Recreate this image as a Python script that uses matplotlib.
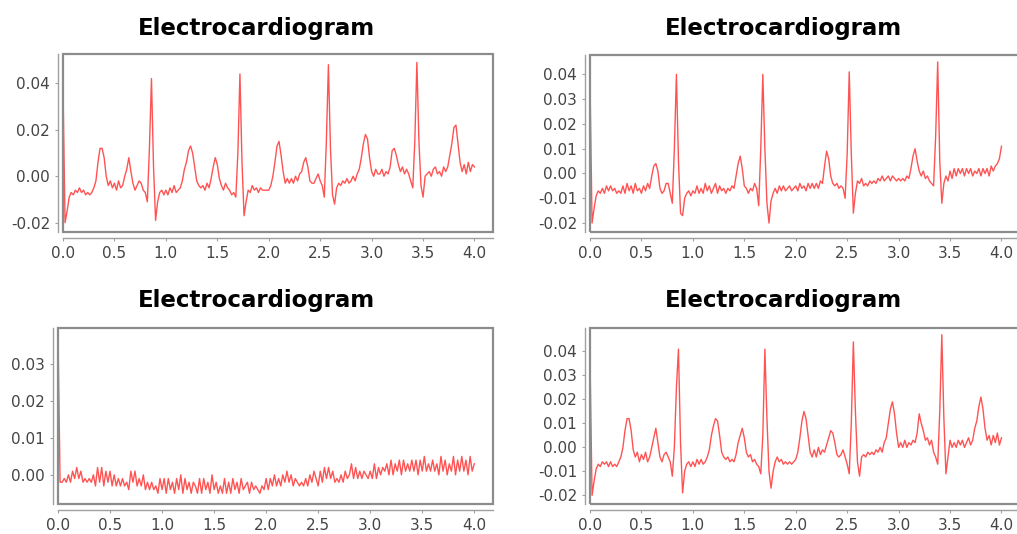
import numpy as np
import matplotlib
matplotlib.use("Agg")
import matplotlib.pyplot as plt
from matplotlib.patches import Rectangle
from matplotlib.ticker import FormatStrFormatter, MultipleLocator

plt.rcParams["axes.unicode_minus"] = False

# sample times (s), one sample every 0.02 s over 4 s
time_s = np.linspace(0.0, 4.0, 201)

title = "Electrocardiogram"

# signals, 10 samples (0.2 s) per row
ecg_top_left = [
    0.038, -0.020, -0.015, -0.009, -0.007, -0.008, -0.006, -0.007, -0.005, -0.007,
    -0.006, -0.008, -0.007, -0.008, -0.007, -0.005, -0.002, 0.006, 0.012, 0.012,
    0.008, 0.000, -0.004, -0.002, -0.005, -0.003, -0.006, -0.002, -0.005, -0.004,
    0.000, 0.003, 0.008, 0.002, -0.003, -0.006, -0.004, -0.002, -0.003, -0.006,
    -0.007, -0.011, 0.012, 0.042, 0.004, -0.019, -0.011, -0.007, -0.006, -0.008,
    -0.006, -0.008, -0.005, -0.007, -0.004, -0.007, -0.006, -0.005, -0.002, 0.003,
    0.006, 0.011, 0.013, 0.010, 0.004, -0.002, -0.004, -0.005, -0.004, -0.006,
    -0.003, -0.005, -0.001, 0.004, 0.008, 0.005, -0.001, -0.004, -0.006, -0.003,
    -0.005, -0.006, -0.008, -0.007, -0.009, 0.010, 0.044, 0.006, -0.017, -0.011,
    -0.006, -0.007, -0.004, -0.006, -0.005, -0.007, -0.005, -0.006, -0.006, -0.006,
    -0.006, -0.004, 0.000, 0.006, 0.013, 0.015, 0.009, 0.002, -0.003, -0.001,
    -0.003, -0.001, -0.003, 0.000, -0.002, 0.001, 0.002, 0.006, 0.008, 0.004,
    -0.002, -0.003, -0.003, -0.001, 0.001, -0.002, -0.004, -0.009, 0.015, 0.048,
    0.012, -0.008, -0.012, -0.005, -0.003, -0.004, -0.002, -0.003, -0.001, -0.003,
    -0.002, 0.000, -0.002, 0.001, 0.003, 0.008, 0.014, 0.018, 0.016, 0.008,
    0.002, 0.000, 0.003, 0.001, 0.001, 0.003, 0.000, 0.002, 0.001, 0.004,
    0.011, 0.012, 0.009, 0.005, 0.002, 0.004, 0.001, 0.003, 0.001, -0.002,
    -0.005, 0.015, 0.049, 0.015, -0.004, -0.009, 0.000, 0.001, 0.002, 0.000,
    0.003, 0.004, 0.001, 0.002, 0.000, 0.004, 0.002, 0.004, 0.009, 0.014,
    0.021, 0.022, 0.014, 0.006, 0.002, 0.005, 0.001, 0.006, 0.002, 0.005,
    0.004,
]

ecg_top_right = [
    0.037, -0.020, -0.014, -0.009, -0.007, -0.008, -0.006, -0.008, -0.005, -0.007,
    -0.005, -0.007, -0.006, -0.008, -0.007, -0.008, -0.005, -0.008, -0.004, -0.007,
    -0.005, -0.008, -0.004, -0.007, -0.006, -0.008, -0.005, -0.007, -0.004, -0.006,
    -0.001, 0.003, 0.004, 0.001, -0.006, -0.008, -0.007, -0.004, -0.004, -0.008,
    -0.012, 0.010, 0.040, 0.005, -0.016, -0.017, -0.010, -0.008, -0.007, -0.009,
    -0.007, -0.008, -0.005, -0.008, -0.006, -0.008, -0.004, -0.007, -0.005, -0.008,
    -0.006, -0.004, -0.008, -0.005, -0.007, -0.006, -0.008, -0.006, -0.007, -0.005,
    -0.006, -0.001, 0.004, 0.007, 0.002, -0.005, -0.006, -0.008, -0.006, -0.007,
    -0.004, -0.006, -0.013, 0.010, 0.040, 0.010, -0.012, -0.020, -0.011, -0.008,
    -0.006, -0.008, -0.005, -0.007, -0.005, -0.007, -0.006, -0.005, -0.007, -0.006,
    -0.005, -0.007, -0.004, -0.006, -0.005, -0.007, -0.004, -0.006, -0.004, -0.006,
    -0.004, -0.006, -0.003, -0.004, 0.003, 0.009, 0.006, -0.001, -0.004, -0.005,
    -0.004, -0.006, -0.005, -0.006, -0.010, 0.008, 0.041, 0.008, -0.016, -0.008,
    -0.003, -0.004, -0.002, -0.005, -0.004, -0.005, -0.003, -0.004, -0.003, -0.004,
    -0.002, -0.003, -0.001, -0.003, -0.002, -0.001, -0.003, -0.001, -0.002, -0.003,
    -0.002, -0.003, -0.002, -0.003, -0.001, -0.002, 0.002, 0.007, 0.010, 0.005,
    0.001, -0.001, 0.001, -0.002, -0.001, -0.003, -0.004, -0.005, 0.015, 0.045,
    0.005, -0.012, -0.004, -0.001, -0.003, 0.001, -0.002, 0.002, -0.001, 0.002,
    0.000, 0.002, -0.001, 0.002, 0.000, 0.002, -0.001, 0.001, 0.000, 0.002,
    -0.001, 0.002, 0.000, 0.002, -0.001, 0.003, 0.001, 0.003, 0.004, 0.006,
    0.011,
]

ecg_bottom_left = [
    0.038, -0.002, -0.002, -0.001, -0.002, 0.000, -0.002, 0.001, -0.001, 0.002,
    -0.001, 0.001, -0.002, -0.001, -0.002, -0.001, -0.002, 0.000, -0.003, 0.002,
    -0.002, 0.002, -0.003, 0.001, -0.002, 0.001, -0.003, 0.000, -0.003, -0.001,
    -0.003, -0.001, -0.003, -0.002, -0.004, 0.001, -0.002, 0.001, -0.003, -0.001,
    -0.003, 0.000, -0.004, -0.002, -0.004, -0.002, -0.004, -0.003, -0.005, -0.001,
    -0.004, -0.001, -0.005, -0.001, -0.004, -0.002, -0.005, -0.001, -0.004, 0.000,
    -0.005, -0.001, -0.004, -0.002, -0.005, -0.002, -0.003, -0.005, -0.001, -0.005,
    -0.001, -0.004, -0.002, -0.005, 0.000, -0.004, -0.002, -0.005, -0.003, -0.005,
    -0.001, -0.005, -0.002, -0.005, -0.001, -0.004, -0.002, -0.005, -0.001, -0.004,
    -0.003, -0.002, -0.005, -0.002, -0.004, -0.003, -0.004, -0.005, -0.003, -0.004,
    -0.001, -0.004, -0.001, -0.003, 0.000, -0.003, -0.001, -0.003, 0.000, -0.002,
    0.001, -0.002, 0.000, -0.003, -0.001, -0.002, -0.003, -0.002, -0.003, -0.001,
    -0.003, 0.000, -0.002, 0.001, -0.001, -0.003, 0.001, -0.002, 0.002, -0.001,
    0.002, -0.001, 0.001, -0.002, -0.001, -0.002, 0.000, -0.002, 0.001, -0.001,
    0.000, 0.003, -0.001, 0.002, -0.001, 0.001, -0.001, 0.001, 0.000, -0.001,
    0.001, -0.001, 0.003, -0.001, 0.002, 0.000, 0.002, 0.001, 0.003, 0.000,
    0.004, 0.000, 0.003, 0.001, 0.004, 0.000, 0.004, 0.001, 0.003, 0.001,
    0.004, 0.001, 0.004, 0.000, 0.004, 0.001, 0.005, 0.001, 0.003, 0.001,
    0.004, 0.001, 0.003, 0.000, 0.005, 0.001, 0.004, 0.000, 0.003, 0.001,
    0.005, 0.000, 0.004, 0.001, 0.005, 0.001, 0.004, 0.000, 0.005, 0.001,
    0.003,
]

ecg_bottom_right = [
    0.037, -0.020, -0.014, -0.009, -0.007, -0.008, -0.006, -0.007, -0.006, -0.008,
    -0.006, -0.008, -0.007, -0.008, -0.006, -0.004, 0.000, 0.007, 0.012, 0.012,
    0.007, -0.001, -0.004, -0.002, -0.006, -0.003, -0.005, -0.002, -0.006, -0.004,
    0.000, 0.004, 0.008, 0.002, -0.004, -0.006, -0.003, -0.002, -0.004, -0.006,
    -0.012, 0.000, 0.025, 0.041, 0.002, -0.019, -0.010, -0.007, -0.006, -0.008,
    -0.006, -0.008, -0.005, -0.007, -0.005, -0.007, -0.006, -0.004, -0.001, 0.005,
    0.009, 0.012, 0.011, 0.005, -0.002, -0.004, -0.005, -0.004, -0.006, -0.005,
    -0.006, -0.003, 0.002, 0.005, 0.008, 0.004, -0.002, -0.004, -0.003, -0.006,
    -0.005, -0.007, -0.008, -0.011, 0.005, 0.041, 0.012, -0.010, -0.017, -0.010,
    -0.006, -0.004, -0.006, -0.005, -0.007, -0.006, -0.007, -0.006, -0.007, -0.006,
    -0.005, -0.002, 0.004, 0.011, 0.015, 0.012, 0.005, -0.002, -0.004, -0.001,
    -0.004, 0.000, -0.003, -0.001, -0.002, 0.001, 0.004, 0.007, 0.006, 0.002,
    -0.003, -0.004, -0.003, -0.001, -0.004, -0.007, -0.011, 0.010, 0.044, 0.015,
    -0.006, -0.012, -0.004, -0.003, -0.004, -0.002, -0.003, -0.002, -0.003, -0.001,
    -0.002, 0.000, -0.002, 0.002, 0.004, 0.010, 0.016, 0.019, 0.014, 0.006,
    0.000, 0.002, 0.000, 0.003, 0.000, 0.002, 0.001, 0.003, 0.002, 0.006,
    0.014, 0.010, 0.007, 0.003, 0.004, 0.001, 0.003, -0.002, -0.004, -0.007,
    0.015, 0.047, 0.012, -0.011, -0.004, 0.003, 0.000, 0.002, 0.000, 0.003,
    0.001, 0.003, 0.000, 0.002, 0.004, 0.001, 0.003, 0.008, 0.011, 0.017,
    0.021, 0.016, 0.008, 0.003, 0.005, 0.001, 0.005, 0.002, 0.006, 0.001,
    0.004,
]

x_ticks = [0.0, 0.5, 1.0, 1.5, 2.0, 2.5, 3.0, 3.5, 4.0]
y_ticks_top_left = [-0.02, 0.00, 0.02, 0.04]
y_ticks_fine = [-0.02, -0.01, 0.00, 0.01, 0.02, 0.03, 0.04]
y_ticks_bottom_left = [0.00, 0.01, 0.02, 0.03]

W, H = 1017, 534
LINE = "#ff4a4a"
BOX = "#8c8c8c"
AXIS = "#a0a0a0"
LABEL = "#444444"


def panel(fig, box_px, signal, ylim, yticks, title_xy):
    """box_px = (left, top, right, bottom) of the plot frame in pixels."""
    l, t, r, b = box_px
    ax = fig.add_axes([l / W, 1 - b / H, (r - l) / W, (b - t) / H])
    ax.plot(time_s, signal, color=LINE, lw=1.0, alpha=0.95)
    ax.set_xlim(0, 4.18)
    ax.set_ylim(*ylim)
    ax.set_xticks(x_ticks)
    ax.set_yticks(yticks)
    ax.xaxis.set_major_formatter(FormatStrFormatter("%.1f"))
    ax.yaxis.set_major_formatter(FormatStrFormatter("%.2f"))
    for s in ("top", "right"):
        ax.spines[s].set_visible(False)
    ax.spines["left"].set_position(("outward", 3.3))
    ax.spines["bottom"].set_position(("outward", 4.3))
    for s in ("left", "bottom"):
        ax.spines[s].set_color(AXIS)
        ax.spines[s].set_linewidth(1.0)
    ax.add_patch(Rectangle((0, 0), 1, 1, transform=ax.transAxes, fill=False,
                           ec=BOX, lw=1.6, clip_on=False, zorder=5))
    ax.tick_params(direction="out", length=2.5, width=0.8, color=AXIS,
                   labelcolor=LABEL, labelsize=11, pad=3.5)
    fig.text(title_xy[0] / W, 1 - title_xy[1] / H, title, ha="center",
             va="center", fontsize=16.5, fontweight="bold")
    return ax


fig = plt.figure(figsize=(W / 100, H / 100), dpi=100)
panel(fig, (63, 54, 493, 232), ecg_top_left, (-0.024, 0.0526),
      y_ticks_top_left, (256, 28))
panel(fig, (590, 55, 1020, 232), ecg_top_right, (-0.0236, 0.0478),
      y_ticks_fine, (783, 28))
panel(fig, (58, 328, 493, 504), ecg_bottom_left, (-0.0079, 0.0398),
      y_ticks_bottom_left, (256, 300))
panel(fig, (590, 328, 1020, 504), ecg_bottom_right, (-0.0236, 0.0498),
      y_ticks_fine, (783, 300))

fig.savefig("out.png", dpi=100)
